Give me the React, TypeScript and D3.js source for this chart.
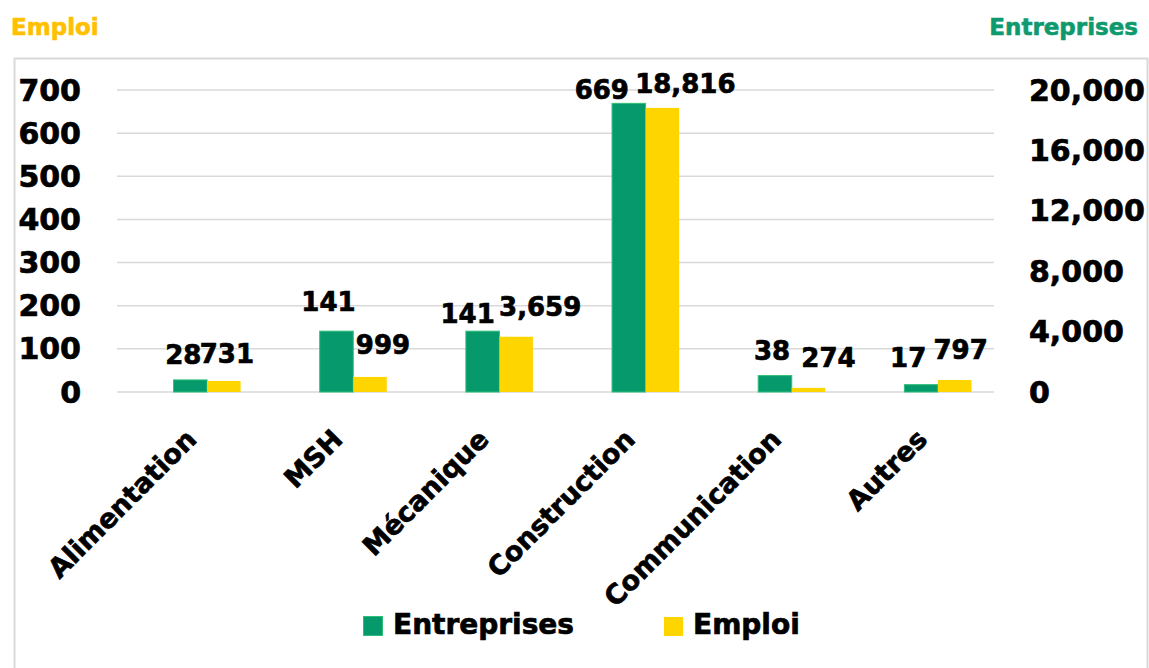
import React from "react";
import * as d3 from "d3";

const categories = ["Alimentation", "MSH", "Mécanique", "Construction", "Communication", "Autres"];
const entreprises = [28, 141, 141, 669, 38, 17];
const emploi = [731, 999, 3659, 18816, 274, 797];
const leftTicks = [0, 100, 200, 300, 400, 500, 600, 700];
const rightTicks = [0, 4000, 8000, 12000, 16000, 20000];
const seriesNames = ["Entreprises", "Emploi"];
// manual label nudges (as placed in the original chart)
const nudgeEntreprises = [[-7, -8], [-8, -12], [-15, 0], [-27, 4], [-3, -8], [-13, -10]];
const nudgeEmploi = [[3, -10], [13, -15], [24, -13], [23, -7], [20, -13], [6, -13]];

const W = 1149;
const H = 668;
const GREEN = "#06996B";
const GREEN_EDGE = "#2DBE78";
const YELLOW = "#FFD500";
const FONT = "'DejaVu Sans', Verdana, sans-serif";
const HEAVY = { stroke: "#000", strokeWidth: 0.7 } as const;

export default function App() {
  const yTop = 90;
  const yBottom = 392;
  const gridX0 = 117;
  const gridX1 = 994;

  const x = d3.scaleBand<string>().domain(categories).range([134, 1011]).padding(0);
  const x1 = d3
    .scaleBand<string>()
    .domain(seriesNames)
    .range([0, x.bandwidth()])
    .paddingInner(0)
    .paddingOuter(1.18);
  const yL = d3.scaleLinear().domain([0, 700]).range([yBottom, yTop]);
  const yR = d3.scaleLinear().domain([0, 20000]).range([yBottom, yTop]);
  const fmt = d3.format(",");
  const bw = x1.bandwidth();

  return (
    <div style={{ position: "fixed", left: 0, top: 0 }}>
      <svg width={W} height={H} style={{ display: "block", background: "#fff" }}>
        {/* frame */}
        <rect x={14.5} y={58.5} width={1133} height={640} fill="none" stroke="#d9d9d9" strokeWidth={2} />
        {/* axis titles */}
        <text x={11} y={35} fontFamily={FONT} fontWeight="bold" fontSize={23} fill="#FFC000" stroke="#FFC000" strokeWidth={0.6}>
          Emploi
        </text>
        <text
          x={1138}
          y={35}
          textAnchor="end"
          fontFamily={FONT}
          fontWeight="bold"
          fontSize={23}
          fill="#0E9A6E"
          stroke="#0E9A6E"
          strokeWidth={0.6}
        >
          Entreprises
        </text>
        {/* gridlines */}
        {leftTicks.map((t) => (
          <line key={"g" + t} x1={gridX0} x2={gridX1} y1={yL(t)} y2={yL(t)} stroke="#d9d9d9" strokeWidth={1.5} />
        ))}
        {/* left ticks */}
        {leftTicks.map((t) => (
          <text
            key={"l" + t}
            x={81}
            y={yL(t)}
            dy="0.35em"
            textAnchor="end"
            fontFamily={FONT}
            fontWeight="bold"
            fontSize={30}
            fill="#000"
            {...HEAVY}
          >
            {t}
          </text>
        ))}
        {/* right ticks */}
        {rightTicks.map((t) => (
          <text
            key={"r" + t}
            x={1029}
            y={yR(t)}
            dy="0.35em"
            textAnchor="start"
            fontFamily={FONT}
            fontWeight="bold"
            fontSize={30}
            fill="#000"
            {...HEAVY}
          >
            {fmt(t)}
          </text>
        ))}
        {/* bars */}
        {categories.map((c, i) => {
          const gx = (x(c) ?? 0) + (x1("Entreprises") ?? 0);
          const yx = (x(c) ?? 0) + (x1("Emploi") ?? 0);
          return (
            <g key={"b" + c}>
              <rect
                x={gx}
                y={yL(entreprises[i])}
                width={bw}
                height={yBottom - yL(entreprises[i])}
                fill={GREEN}
                stroke={GREEN_EDGE}
                strokeWidth={1}
              />
              <rect x={yx} y={yR(emploi[i])} width={bw} height={yBottom - yR(emploi[i])} fill={YELLOW} />
            </g>
          );
        })}
        {/* data labels */}
        {categories.map((c, i) => {
          const gx = (x(c) ?? 0) + (x1("Entreprises") ?? 0) + bw / 2;
          const yx = (x(c) ?? 0) + (x1("Emploi") ?? 0) + bw / 2;
          return (
            <g
              key={"dl" + c}
              fontFamily={FONT}
              fontWeight="bold"
              fontSize={26}
              fill="#000"
              textAnchor="middle"
              {...HEAVY}
            >
              <text x={gx + nudgeEntreprises[i][0]} y={yL(entreprises[i]) - 8 + nudgeEntreprises[i][1]}>
                {entreprises[i]}
              </text>
              <text x={yx + nudgeEmploi[i][0]} y={yR(emploi[i]) - 8 + nudgeEmploi[i][1]}>
                {fmt(emploi[i])}
              </text>
            </g>
          );
        })}
        {/* category labels */}
        {categories.map((c) => {
          const cx = (x(c) ?? 0) + x.bandwidth() / 2 - 9;
          const cy = 441;
          return (
            <text
              key={"c" + c}
              transform={`translate(${cx},${cy}) rotate(-45)`}
              textAnchor="end"
              fontFamily={FONT}
              fontWeight="bold"
              fontSize={27}
              fill="#000"
              {...HEAVY}
            >
              {c}
            </text>
          );
        })}
        {/* legend */}
        <rect x={363.5} y={616.5} width={19} height={19} fill={GREEN} stroke={GREEN_EDGE} strokeWidth={1} />
        <text x={393} y={634} fontFamily={FONT} fontWeight="bold" fontSize={28} fill="#000" {...HEAVY}>
          Entreprises
        </text>
        <rect x={664} y={617} width={19} height={19} fill={YELLOW} />
        <text x={693} y={634} fontFamily={FONT} fontWeight="bold" fontSize={28} fill="#000" {...HEAVY}>
          Emploi
        </text>
      </svg>
    </div>
  );
}
